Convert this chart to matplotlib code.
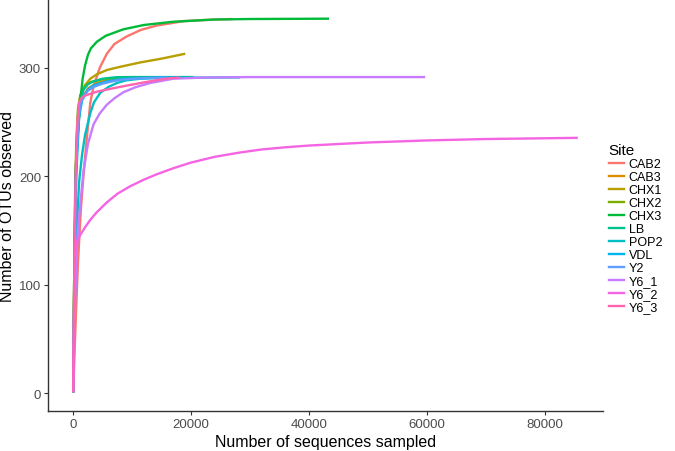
import numpy as np
import matplotlib.pyplot as plt
from matplotlib.lines import Line2D

plt.rcParams['font.family'] = ['Liberation Sans', 'DejaVu Sans']

### rarefaction curves: (sequences sampled, OTUs observed)
sites = ['CAB2', 'CAB3', 'CHX1', 'CHX2', 'CHX3', 'LB', 'POP2', 'VDL',
         'Y2', 'Y6_1', 'Y6_2', 'Y6_3']
colours = ['#F8766D', '#DE8C00', '#B79F00', '#7CAE00', '#00BA38', '#00C08B',
           '#00BFC4', '#00B4F0', '#619CFF', '#C77CFF', '#F564E3', '#FF64B0']

cab2_x = [0, 300, 800, 1300, 1800, 2300, 2900, 3500, 4500, 5700, 7000, 9100, 11500, 14200, 18700, 23800, 27000]
cab2_y = [1, 50, 120, 170, 205, 235, 268, 284, 300, 313, 322, 329, 335, 339, 343, 344.5, 345]
cab3_x = [0, 200, 500, 1000, 1500, 2500, 4000, 6000, 8000]
cab3_y = [1, 120, 215, 258, 272, 281, 286, 289, 290]
chx1_x = [0, 200, 500, 800, 1200, 2000, 2900, 4000, 5700, 8000, 11400, 15000, 19000]
chx1_y = [1, 120, 220, 255, 274, 284, 290, 294, 298, 301, 305, 308.5, 313]
chx2_x = [0, 200, 500, 800, 1200, 2000, 3000, 5000, 7000, 9000]
chx2_y = [1, 130, 230, 262, 275, 283, 287, 289.5, 290, 290.5]
chx3_x = [0, 150, 350, 700, 1000, 1300, 1600, 2000, 2500, 3000, 4000, 5500, 8500, 12000, 17000, 23800, 30000, 43400]
chx3_y = [1, 100, 200, 235, 255, 275, 290, 302, 312, 318, 324, 329.5, 335.5, 339.5, 342.5, 344.5, 345, 345.3]
lb_x = [0, 200, 500, 900, 1300, 1750, 2500, 3450, 5000, 7400, 10000, 14000, 20400]
lb_y = [1, 110, 210, 250, 270, 280, 285, 287.5, 290, 291.4, 291.5, 291.5, 291.5]
pop2_x = [0, 200, 500, 1000, 1500, 2000, 2880, 3500, 4580, 6000, 7400, 9000, 11400, 15000, 20000, 28300]
pop2_y = [1, 70, 140, 195, 220, 238, 258, 268, 277, 282.5, 286, 288.5, 290, 290.8, 291, 291.2]
vdl_x = [0, 200, 500, 1000, 1500, 2500, 3500, 5700, 8000, 11400, 15000, 18000]
vdl_y = [1, 100, 200, 255, 270, 280, 284, 287.5, 289.5, 290.5, 291, 291]
y2_x = [0, 200, 500, 900, 1300, 1750, 2500, 3500, 5000, 7000, 9000, 12000, 16000]
y2_y = [1, 110, 210, 255, 268, 274, 279, 282.5, 285.5, 288, 289.5, 290.5, 291]
y61_x = [0, 200, 500, 800, 1200, 1750, 2500, 3450, 4500, 5700, 7000, 8500, 10500, 13000, 17000, 22000, 30000, 45000, 59700]
y61_y = [1, 60, 120, 150, 175, 205, 230, 248, 258, 266, 272, 277.5, 282, 286, 290, 291, 291.5, 291.5, 291.5]
y62_x = [0, 100, 250, 400, 700, 1200, 2000, 2900, 4000, 5700, 7500, 9700, 12000, 14200, 17000, 19850,
         24000, 28300, 32000, 36000, 40000, 50000, 60000, 70000, 85600]
y62_y = [2, 60, 120, 135, 141, 146, 153, 160, 167, 176, 184, 191, 197, 202, 207.5, 212.5,
         218, 222, 224.8, 226.8, 228.4, 231.2, 233.1, 234.4, 235.5]
y63_x = [0, 150, 400, 700, 1000, 1500, 2300, 4000, 5700, 8000, 11400, 14000, 16500, 18000]
y63_y = [1, 100, 200, 250, 268, 273, 275, 278, 280, 282.5, 286, 288.5, 290.5, 291]

curves_x = [cab2_x, cab3_x, chx1_x, chx2_x, chx3_x, lb_x, pop2_x, vdl_x, y2_x, y61_x, y62_x, y63_x]
curves_y = [cab2_y, cab3_y, chx1_y, chx2_y, chx3_y, lb_y, pop2_y, vdl_y, y2_y, y61_y, y62_y, y63_y]

fig = plt.figure(figsize=(6.75, 4.52), dpi=100)
ax = fig.add_axes([48/675, 40/452, 555/675, 411/452])

for name, col, xs, ys in zip(sites, colours, curves_x, curves_y):
    ax.plot(xs, ys, color=col, lw=1.7, label=name, solid_capstyle='butt')

### ggplot style 5% expansion
allx = np.concatenate([np.array(v) for v in curves_x])
ally = np.concatenate([np.array(v) for v in curves_y])
dx = 0.05 * (allx.max() - allx.min())
dy = 0.05 * (ally.max() - ally.min())
ax.set_xlim(allx.min() - dx, allx.max() + dx)
ax.set_ylim(ally.min() - dy, ally.max() + dy)

ax.set_xticks([0, 20000, 40000, 60000, 80000])
ax.set_yticks([0, 100, 200, 300])
for s in ['top', 'right']:
    ax.spines[s].set_visible(False)
for s in ['left', 'bottom']:
    ax.spines[s].set_color('#333333')
    ax.spines[s].set_linewidth(1.0)
ax.tick_params(length=3, width=0.8, color='#333333', labelsize=9.5, labelcolor='#4D4D4D', pad=2)
ax.set_xlabel('Number of sequences sampled', fontsize=11.5, labelpad=3)
ax.set_ylabel('Number of OTUs observed', fontsize=11.5, labelpad=3)

handles = [Line2D([0], [0], color=c, lw=1.7) for c in colours]
leg = fig.legend(handles, sites, loc='upper left', bbox_to_anchor=(606/675, 1 - 142/452),
                 frameon=False, title='Site', fontsize=9, title_fontsize=11,
                 handlelength=1.2, handletextpad=0.4, labelspacing=0.08, borderaxespad=0,
                 borderpad=0.2)
leg._legend_box.align = 'left'

fig.savefig('out.png', dpi=100)
